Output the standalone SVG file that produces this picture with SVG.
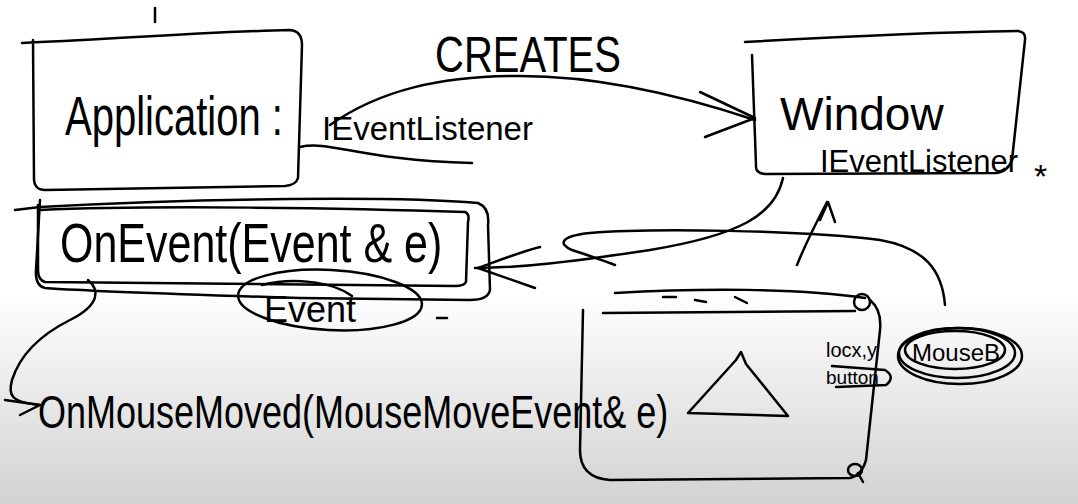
<svg xmlns="http://www.w3.org/2000/svg" width="1078" height="504" viewBox="0 0 1078 504">
<defs>
<linearGradient id="bg" x1="0" y1="0" x2="0" y2="1">
<stop offset="0" stop-color="#ffffff"/>
<stop offset="0.58" stop-color="#ffffff"/>
<stop offset="1" stop-color="#d2d2d2"/>
</linearGradient>
</defs>
<style>
.s{fill:none;stroke:#000;stroke-width:2.5;stroke-linecap:round;stroke-linejoin:round}
.t{font-family:"Liberation Sans",Arial,sans-serif;fill:#000}
</style>
<rect x="0" y="0" width="1078" height="504" fill="url(#bg)"/>

<g id="application">
<path class="s" d="M22 43 C100 40 200 32 290 30 Q302 31 302 45 L298 178 Q296 185 285 186 L45 190 Q35 190 34 180 L33 40"/>
<path class="s" d="M155 8 L155 22"/>
<text class="t" transform="translate(65 135) scale(1 1.4)" x="0" y="0" font-size="40">Application :</text>
<text class="t" x="322" y="140" font-size="33">IEventListener</text>
<path class="s" d="M300 147 C330 140 360 160 472 163"/>
</g>

<g id="creates-label">
<text class="t" transform="translate(435 72) scale(1 1.25)" x="0" y="0" font-size="40">CREATES</text>
</g>

<g id="window">
<path class="s" d="M745 42 C850 36 950 32 1018 31 Q1026 32 1025 40 L1012 160 Q1008 172 995 173 L765 174 Q755 173 756 165 L752 55"/>
<text class="t" x="780" y="130" font-size="46">Window</text>
<text class="t" x="820" y="172" font-size="31">IEventListener</text>
<text class="t" x="1034" y="188" font-size="34">*</text>
</g>

<g id="onevent">
<path class="s" d="M40 210 C150 205 350 208 465 212 Q470 214 468 222 L466 282 Q464 286 455 286 L45 282 Q38 280 38 270 L38 205"/>
<path class="s" d="M15 210 L40 207 C200 198 400 196 478 203 Q490 208 488 225 L490 290 Q488 300 470 300 L300 298 C200 295 100 292 45 288 Q35 286 36 270 L40 200"/>
<text class="t" transform="translate(60 262) scale(1 1.3)" x="0" y="0" font-size="43">OnEvent(Event &amp; e)</text>
<path class="s" d="M437 318 L447 318"/>
</g>

<g id="event">
<ellipse class="s" cx="330" cy="300" rx="92" ry="30" transform="rotate(3 330 300)"/>
<path class="s" d="M262 285 C290 278 330 280 352 296"/>
<text class="t" x="264" y="322" font-size="36">Event</text>
</g>

<g id="onmousemoved">
<text class="t" transform="translate(38 428) scale(1 1.3)" x="0" y="0" font-size="36">OnMouseMoved(MouseMoveEvent&amp; e)</text>
</g>

<g id="window-mockup">
<path class="s" d="M583 310 L580 450 Q580 478 610 480 L850 478 Q862 475 866 460 L880 330 Q882 310 870 300"/>
<path class="s" d="M615 293 C700 288 800 288 865 298"/>
<path class="s" d="M603 313 L855 311"/>
<path class="s" d="M663 297 L676 297 M695 300 L706 302 M735 297 L747 303"/>
<circle class="s" cx="862" cy="302" r="8"/>
<path class="s" d="M855 470 m-7 0 a7 6 0 1 0 14 0 a7 6 0 1 0 -14 0 M858 473 L863 482"/>
<path class="s" d="M688 413 L736 360 L741 352 L746 364 L788 416 Z"/>
<text class="t" x="826" y="357" font-size="20">locx,y</text>
<text class="t" x="826" y="384" font-size="19">button</text>
<path class="s" d="M832 366 L885 370 Q896 377 886 385 L836 387"/>
</g>

<g id="mouseb">
<ellipse class="s" cx="957" cy="353" rx="58" ry="25"/>
<ellipse class="s" cx="955" cy="350" rx="50" ry="19"/>
<ellipse class="s" cx="960" cy="356" rx="62" ry="28"/>
<text class="t" x="912" y="361" font-size="24">MouseB</text>
</g>

<g id="connectors">
<path class="s" d="M330 125 C380 90 440 76 520 76 C600 76 680 95 755 120"/>
<path class="s" d="M700 92 L755 118 L705 137"/>
<path class="s" d="M783 178 C775 215 740 235 650 250 C570 262 520 268 475 268"/>
<path class="s" d="M540 247 C520 252 495 262 478 268 L535 288"/>
<path class="s" d="M945 305 C942 270 925 248 880 240 C800 230 650 228 590 233 C560 236 558 244 572 250 C590 256 608 262 615 265"/>
<path class="s" d="M88 280 C100 290 100 305 70 320 C40 335 20 355 12 380 C8 395 10 402 40 405"/>
<path class="s" d="M5 400 L40 405 L20 415"/>
<path class="s" d="M797 265 C805 245 815 225 827 202"/>
<path class="s" d="M820 220 L828 202 L835 222"/>
</g>
</svg>
